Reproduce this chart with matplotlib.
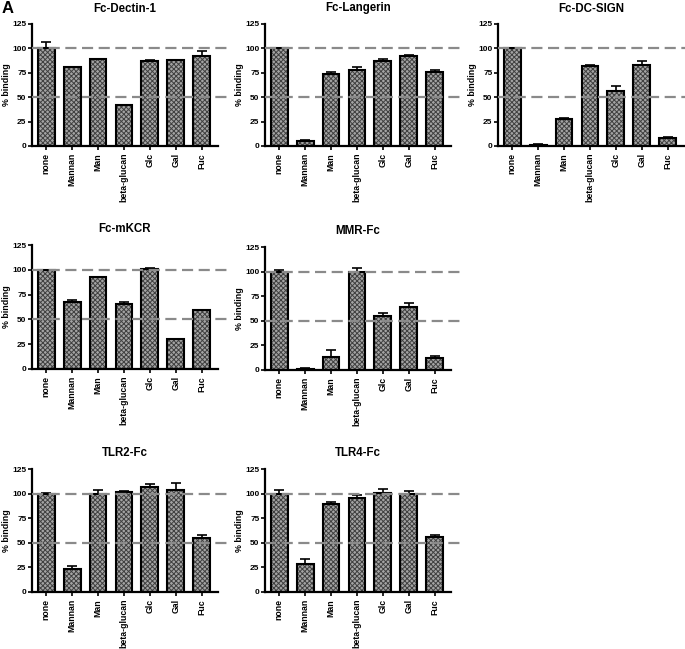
import matplotlib.pyplot as plt
import numpy as np

plt.rcParams['font.family'] = ['Liberation Sans', 'DejaVu Sans']
plt.rcParams['font.weight'] = 'bold'
plt.rcParams['hatch.linewidth'] = 0.7

W, H = 685, 649

sugars = ["none", "Mannan", "Man", "beta-glucan", "Glc", "Gal", "Fuc"]

dectin1 = [100, 81, 89, 42, 87, 88, 92]
dectin1_err = [7, 0, 0, 0, 1, 0, 5]
langerin = [100, 5, 74, 78, 87, 92, 76]
langerin_err = [0, 1, 2, 3, 2, 1, 2]
dcsign = [100, 1.5, 28, 82, 56, 83, 8]
dcsign_err = [0, 0.5, 1, 1, 5, 4, 1.5]
mkcr = [100, 68, 93, 66, 101, 30, 59]
mkcr_err = [0, 2, 0, 2, 1, 0, 0]
mmr = [100, 1.5, 13, 100, 55, 64, 12]
mmr_err = [2, 0.5, 7, 4, 3, 4, 2]
tlr2 = [100, 23, 100, 101.5, 107, 104, 55]
tlr2_err = [1, 3, 4, 1, 3, 7, 3]
tlr4 = [100, 28, 89, 96, 101, 100, 56]
tlr4_err = [4, 6, 2, 3, 4, 3, 1.5]

panels = [
    ("Fc-Dectin-1", dectin1, dectin1_err, 32, 24, 146),
    ("Fc-Langerin", langerin, langerin_err, 265, 24, 146),
    ("Fc-DC-SIGN", dcsign, dcsign_err, 498, 24, 146),
    ("Fc-mKCR", mkcr, mkcr_err, 32, 245, 369),
    ("MMR-Fc", mmr, mmr_err, 265, 247, 370),
    ("TLR2-Fc", tlr2, tlr2_err, 32, 469, 592),
    ("TLR4-Fc", tlr4, tlr4_err, 265, 469, 592),
]

fig = plt.figure(figsize=(W / 100, H / 100), dpi=100)

spine_w = 186
x0, x1 = -0.55, 6.63
unit = spine_w / (x1 - x0)
extra = 9

for title, vals, errs, left, top, bottom in panels:
    ax = fig.add_axes([left / W, 1 - bottom / H, (spine_w + extra) / W, (bottom - top) / H])
    x = np.arange(len(sugars))
    # hatched grey fill, then black outline on top
    ax.bar(x, vals, width=0.65, color='#a4a4a4', edgecolor='#404040', hatch='xxxxxxx',
           linewidth=0, zorder=2)
    ax.bar(x, vals, width=0.65, fill=False, edgecolor='black', linewidth=1.5, zorder=3)
    ax.errorbar(x, vals, yerr=[np.zeros(len(errs)), errs], fmt='none', ecolor='black',
                elinewidth=1.2, capsize=3.5, capthick=1.2, zorder=4)
    for yv in (50, 100):
        ax.axhline(yv, color='#8a8a8a', lw=1.6, ls=(0, (5, 2.5)), zorder=5)
    ax.set_xlim(x0, x1 + extra / unit)
    ax.set_ylim(0, 125)
    ax.set_yticks([0, 25, 50, 75, 100, 125])
    ax.set_xticks(x)
    ax.set_xticklabels(sugars, rotation=90, fontsize=6.3, fontweight='bold')
    ax.tick_params(axis='y', labelsize=6, width=1.2, length=3, pad=1)
    ax.tick_params(axis='x', width=1.2, length=3, pad=2)
    for s in ('top', 'right'):
        ax.spines[s].set_visible(False)
    for s in ('left', 'bottom'):
        ax.spines[s].set_linewidth(1.6)
    ax.spines['bottom'].set_bounds(x0, x1)
    ax.set_ylabel("% binding", fontsize=6.4, fontweight='bold', labelpad=1)
    ax.set_title(title, fontsize=8.3, fontweight='bold', pad=9, x=spine_w / (spine_w + extra) / 2)

fig.text(2 / W, 1 - 1 / H, "A", fontsize=12, fontweight='bold', va='top', ha='left')

fig.savefig("out.png", dpi=100)
